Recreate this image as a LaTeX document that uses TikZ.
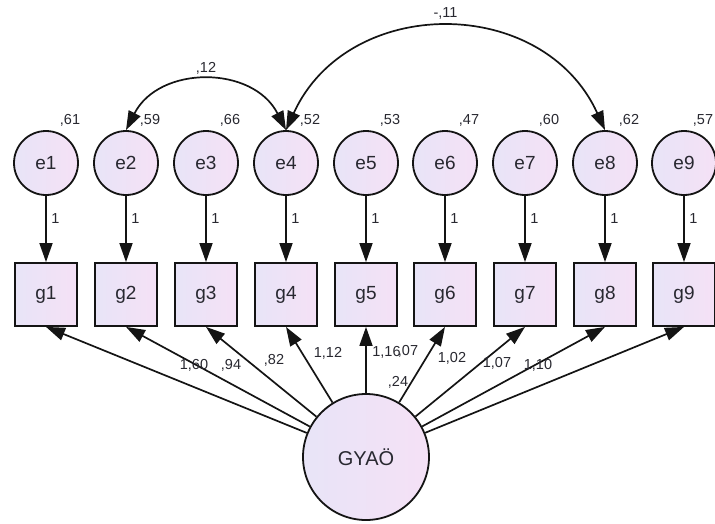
\documentclass[tikz,border=0pt]{standalone}
\usepackage{fontspec}
\setmainfont{Liberation Sans}
\usetikzlibrary{arrows.meta}

\definecolor{fillL}{RGB}{232,228,247}
\definecolor{fillR}{RGB}{245,225,246}
\definecolor{txt}{RGB}{40,40,48}
\definecolor{ink}{RGB}{20,20,20}

\begin{document}
\begin{tikzpicture}[x=1pt,y=-1pt,
  latent/.style={circle, draw=ink, line width=1.8pt, minimum size=64pt,
    inner sep=0pt, left color=fillL, right color=fillR,
    font=\fontsize{19}{19}\selectfont, text=txt},
  observed/.style={rectangle, draw=ink, line width=1.8pt,
    minimum width=62pt, minimum height=63pt, inner sep=0pt,
    left color=fillL, right color=fillR,
    font=\fontsize{19}{19}\selectfont, text=txt},
  regpath/.style={draw=ink, line width=1.7pt,
    -{Triangle[length=19pt,width=13pt]}},
  covpath/.style={draw=ink, line width=1.7pt,
    {Triangle[length=19pt,width=13pt]}-{Triangle[length=19pt,width=13pt]}},
  coef/.style={font=\fontsize{14.5}{14.5}\selectfont, text=txt, inner sep=0pt}
]
\useasboundingbox (0,0) rectangle (715,523);

% error terms, indicators and their unit paths
\foreach \i/\x/\v/\dx in {1/46/61/24, 2/126/59/24, 3/206/66/24, 4/286/52/24,
                          5/366/53/24, 6/445/47/24, 7/525/60/24, 8/605/62/24,
                          9/684/57/19} {
  \node[latent]   (e\i) at (\x,163) {e\i};
  \node[observed] (g\i) at (\x,294.5) {g\i};
  \node[coef] (v\i) at (\x+\dx,120) {,\v};
  \draw[regpath] (e\i) -- (g\i) node[coef, pos=0.34, right=4.5pt] {1};
}

% common factor
\node[latent, minimum size=126pt, font=\fontsize{20}{20}\selectfont]
  (G) at (366,457) {GYAÖ};

% factor loadings
\foreach \i in {1,...,9} {
  \draw[regpath] (G) -- (g\i.south);
}
\node[coef] (l1) at (194,365) {1,60};
\node[coef] (l2) at (231,365) {,94};
\node[coef] (l3) at (274,360) {,82};
\node[coef] (l4) at (328,353) {1,12};
\node[coef] (l5) at (386.5,352) {1,16};
\node[coef] (l6a) at (408,351) {,07};
\node[coef] (l6b) at (398,382) {,24};
\node[coef] (l7) at (452,358) {1,02};
\node[coef] (l8) at (497,363) {1,07};
\node[coef] (l9) at (538,365) {1,10};

% error covariances
\draw[covpath] (e2.north) to[out=63, in=117, looseness=1.17]
  node[coef, above=6pt] {,12} (e4.north);
\draw[covpath] (e4.north) to[out=65.5, in=114.5, looseness=1.2]
  node[coef, above=8pt] {-,11} (e8.north);
\end{tikzpicture}
\end{document}
